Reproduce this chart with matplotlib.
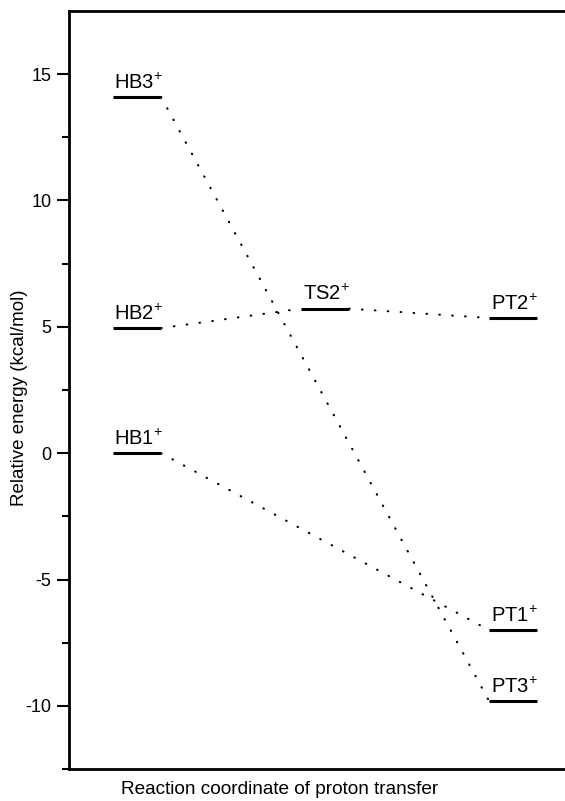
import matplotlib.pyplot as plt

plt.rcParams['font.family'] = ['Liberation Sans', 'DejaVu Sans']
plt.rcParams['mathtext.fontset'] = 'custom'
plt.rcParams['mathtext.rm'] = 'Liberation Sans'
plt.rcParams['axes.unicode_minus'] = False

# Energy levels (kcal/mol) and their position along the reaction coordinate
states = ['HB3', 'HB2', 'HB1', 'TS2', 'PT2', 'PT1', 'PT3']
positions = [1, 1, 1, 2, 3, 3, 3]
energies = [14.1, 4.95, 0.0, 5.72, 5.35, -7.0, -9.8]

# Which states are joined by dotted lines
links = [('HB3', 'PT3'), ('HB2', 'TS2'), ('TS2', 'PT2'), ('HB1', 'PT1')]

half_w = 0.128

fig = plt.figure(figsize=(5.65, 8.01), dpi=100)
ax = fig.add_axes([69 / 565, 32 / 801, 1 - 69 / 565, (769 - 11) / 801])

lookup = {s: (p, e) for s, p, e in zip(states, positions, energies)}

for s, p, e in zip(states, positions, energies):
    ax.plot([p - half_w, p + half_w], [e, e], color='black', lw=2.2,
            solid_capstyle='butt')
    ax.annotate(s + '$^{+}$', (p, e), xytext=(1, 3), textcoords='offset points',
                ha='center', va='bottom', fontsize=14.5)

for a, b in links:
    pa, ea = lookup[a]
    pb, eb = lookup[b]
    ax.plot([pa + half_w, pb - half_w], [ea, eb], color='black', lw=1.5,
            linestyle=(0, (0.3, 5.9)), dash_capstyle='round')

ax.set_xlim(1 - 68 / 188, 1 - 68 / 188 + (565 - 69) / 188)
ax.set_ylim(-12.5, 17.5)
ax.set_yticks([-10, -5, 0, 5, 10, 15])
ax.set_yticks([-12.5, -7.5, -2.5, 2.5, 7.5, 12.5], minor=True)
ax.set_xticks([])
ax.tick_params(axis='y', which='major', direction='out', length=8.6, width=1.5,
               labelsize=13, pad=4)
ax.tick_params(axis='y', which='minor', direction='out', length=5, width=1.5)

ax.spines['right'].set_visible(False)
for side in ['left', 'top', 'bottom']:
    ax.spines[side].set_linewidth(2)

fig.text(20 / 565, 1 - 398 / 801, 'Relative energy (kcal/mol)', rotation=90,
         ha='center', va='center', fontsize=13.5)
fig.text(280 / 565, 1 - 790 / 801, 'Reaction coordinate of proton transfer',
         ha='center', va='center', fontsize=13.7)

fig.savefig('out.png', dpi=100)
